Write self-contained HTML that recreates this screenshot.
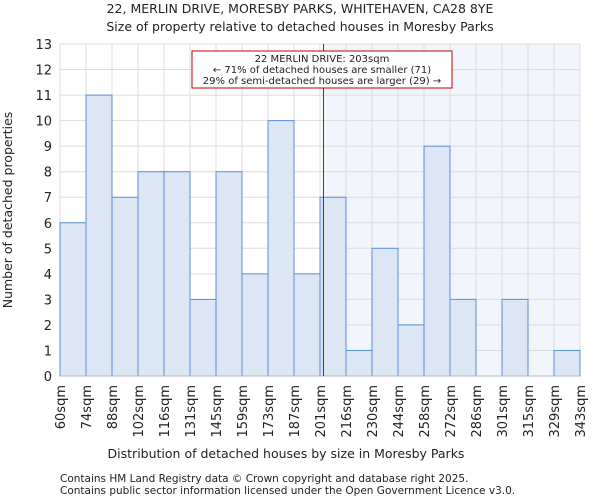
<!DOCTYPE html>
<html><head><meta charset="utf-8"><style>
body{margin:0;background:#fff;font-family:"DejaVu Sans","Liberation Sans",sans-serif;}
svg text{font-family:"DejaVu Sans","Liberation Sans",sans-serif;fill:#222;}
</style></head><body>
<svg width="600" height="500">
<text x="300" y="13" font-size="12.5" text-anchor="middle">22, MERLIN DRIVE, MORESBY PARKS, WHITEHAVEN, CA28 8YE</text>
<text x="300" y="31" font-size="12.5" text-anchor="middle">Size of property relative to detached houses in Moresby Parks</text>
<g id="plot"></g>
<text x="286" y="458" font-size="12.5" text-anchor="middle">Distribution of detached houses by size in Moresby Parks</text>
<text transform="translate(12,210) rotate(-90)" font-size="12.5" text-anchor="middle">Number of detached properties</text>
<text x="60" y="482" font-size="10.5" fill="#444">Contains HM Land Registry data © Crown copyright and database right 2025.</text>
<text x="60" y="494" font-size="10.5" fill="#444">Contains public sector information licensed under the Open Government Licence v3.0.</text>
</svg>
<script>
const binLabels=["60sqm","74sqm","88sqm","102sqm","116sqm","131sqm","145sqm","159sqm","173sqm","187sqm","201sqm","216sqm","230sqm","244sqm","258sqm","272sqm","286sqm","301sqm","315sqm","329sqm","343sqm"];
const binEdges=[60,74,88,102,116,131,145,159,173,187,201,216,230,244,258,272,286,301,315,329,343];
const counts=[6,11,7,8,8,3,8,4,10,4,7,1,5,2,9,3,0,3,0,1];
const yTicks=[0,1,2,3,4,5,6,7,8,9,10,11,12,13];
const propertySize=203;
const NS="http://www.w3.org/2000/svg";
const g=document.getElementById('plot');
const X0=60,X1=580,Y0=376,Y1=44,YMAX=13,N=counts.length;
const bw=(X1-X0)/N;
const xi=i=>X0+i*bw;
const y=v=>Y0-(v/YMAX)*(Y0-Y1);
function xv(v){for(let i=0;i<binEdges.length-1;i++){if(v<=binEdges[i+1])return xi(i)+(v-binEdges[i])/(binEdges[i+1]-binEdges[i])*bw;}return X1;}
function mk(t,a){const e=document.createElementNS(NS,t);for(const k in a)e.setAttribute(k,a[k]);g.appendChild(e);return e;}
const px=xv(propertySize);
let e=mk('rect',{x:px,y:Y1,width:X1-px,height:Y0-Y1,fill:'#f2f5fc'});


yTicks.forEach(t=>{
 let l=mk('line',{x1:X0,x2:X1,y1:y(t),y2:y(t),stroke:'#dcdcdc'});
 
 
 let tx=mk('text',{x:X0-8,y:y(t)+5,'font-size':13,'text-anchor':'end'});tx.textContent=t;
 
 
});
binLabels.forEach((s,i)=>{
 let l=mk('line',{x1:xi(i),x2:xi(i),y1:Y1,y2:Y0,stroke:'#dcdcdc'});
 
 
 let tx=mk('text',{transform:`translate(${xi(i)+5},385) rotate(-90)`,'font-size':13,'text-anchor':'end'});tx.textContent=s;
 
 
});
counts.forEach((c,i)=>{
 if(c<=0)return;
 let r=mk('rect',{x:xi(i),y:y(c),width:bw,height:Y0-y(c),fill:'#dce6f4',stroke:'#5b8fd6','stroke-width':1});
 
 
});
let ax=mk('line',{x1:X0,x2:X1,y1:Y0,y2:Y0,stroke:'#b0b8c8'});


let vl=mk('line',{x1:px,x2:px,y1:Y1,y2:Y0,stroke:'#8b1a1a','stroke-width':1});


let bx=mk('rect',{x:192,y:51,width:260,height:37,fill:'#fff',stroke:'#c00000'});


["22 MERLIN DRIVE: 203sqm","← 71% of detached houses are smaller (71)","29% of semi-detached houses are larger (29) →"].forEach((s,k)=>{
 let t=mk('text',{x:322,y:62+k*11,'font-size':10,'text-anchor':'middle'});t.textContent=s;
 
 
});
</script>
</body></html>
